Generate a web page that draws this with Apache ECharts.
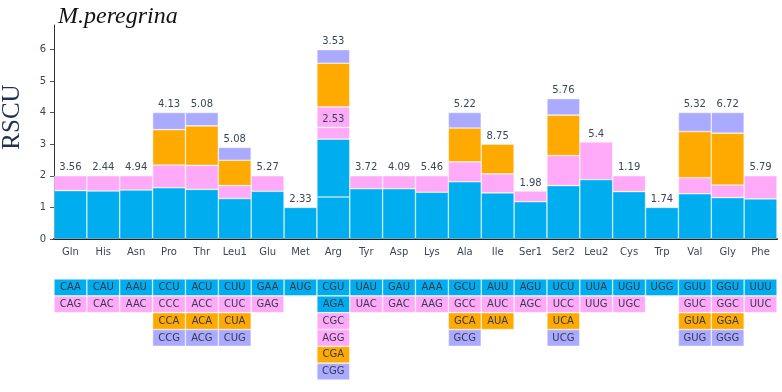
<!DOCTYPE html>
<html><head><meta charset="utf-8">
<script src="https://cdn.jsdelivr.net/npm/echarts@6/dist/echarts.min.js"></script>
<style>html,body{margin:0;padding:0;background:#fff}#c{width:782px;height:392px}</style>
</head><body><div id="c"></div>
<script>
const categories = ['Gln','His','Asn','Pro','Thr','Leu1','Glu','Met','Arg','Tyr','Asp','Lys','Ala','Ile','Ser1','Ser2','Leu2','Cys','Trp','Val','Gly','Phe'];
const rscu1 = [1.53,1.52,1.55,1.62,1.57,1.28,1.51,1.00,1.33,1.59,1.59,1.48,1.81,1.46,1.18,1.69,1.88,1.50,1.00,1.43,1.31,1.27];
const rscu2 = [0.47,0.48,0.45,0.72,0.76,0.41,0.49,null,1.83,0.41,0.41,0.52,0.63,0.60,0.34,0.95,1.19,0.50,null,0.51,0.40,0.73];
const rscu3 = [null,null,null,1.12,1.25,0.80,null,null,0.37,null,null,null,1.07,0.94,null,1.28,null,null,null,1.46,1.64,null];
const rscu4 = [null,null,null,0.54,0.42,0.41,null,null,0.65,null,null,null,0.49,null,null,0.52,null,null,null,0.60,0.65,null];
const rscu5 = [null,null,null,null,null,null,null,null,1.38,null,null,null,null,null,null,null,null,null,null,null,null,null];
const rscu6 = [null,null,null,null,null,null,null,null,0.43,null,null,null,null,null,null,null,null,null,null,null,null,null];
const topLabels = ['3.56','2.44','4.94','4.13','5.08','5.08','5.27','2.33','3.53','3.72','4.09','5.46','5.22','8.75','1.98','5.76','5.4','1.19','1.74','5.32','6.72','5.79'];
const argInnerLabel = '2.53';
const codon1 = ['CAA','CAU','AAU','CCU','ACU','CUU','GAA','AUG','CGU','UAU','GAU','AAA','GCU','AUU','AGU','UCU','UUA','UGU','UGG','GUU','GGU','UUU'];
const codon2 = ['CAG','CAC','AAC','CCC','ACC','CUC','GAG',null,'AGA','UAC','GAC','AAG','GCC','AUC','AGC','UCC','UUG','UGC',null,'GUC','GGC','UUC'];
const codon3 = [null,null,null,'CCA','ACA','CUA',null,null,'CGC',null,null,null,'GCA','AUA',null,'UCA',null,null,null,'GUA','GGA',null];
const codon4 = [null,null,null,'CCG','ACG','CUG',null,null,'AGG',null,null,null,'GCG',null,null,'UCG',null,null,null,'GUG','GGG',null];
const codon5 = [null,null,null,null,null,null,null,null,'CGA',null,null,null,null,null,null,null,null,null,null,null,null,null];
const codon6 = [null,null,null,null,null,null,null,null,'CGG',null,null,null,null,null,null,null,null,null,null,null,null,null];
const yTicks = [0,1,2,3,4,5,6];

const BLUE='#00AEEF', PINK='#FFAAF8', ORANGE='#FFAA00', PURPLE='#AAAAFF';
const defaultColors=[BLUE,PINK,ORANGE,PURPLE,ORANGE,PURPLE];
const argColors=[BLUE,BLUE,PINK,PINK,ORANGE,PURPLE];
function colorFor(i,r){return categories[i]==='Arg'?argColors[r]:defaultColors[r];}

const rows=[rscu1,rscu2,rscu3,rscu4,rscu5,rscu6];
const codons=[codon1,codon2,codon3,codon4,codon5,codon6];
const textColor='#3a4658';

function topRow(i){let t=0;rows.forEach((a,r)=>{if(a[i]!=null)t=r;});return t;}

const series=[];
rows.forEach((arr,r)=>{
  series.push({
    type:'bar',stack:'rscu',xAxisIndex:0,yAxisIndex:0,barCategoryGap:0,
    itemStyle:{borderColor:'rgba(255,255,255,0.7)',borderWidth:0.6},
    label:{show:false},
    data:arr.map((v,i)=>{
      if(v==null) return '-';
      const o={value:v,itemStyle:{color:colorFor(i,r)}};
      let txt=null;
      if(topRow(i)===r) txt=topLabels[i];
      else if(categories[i]==='Arg' && r===2) txt=argInnerLabel;
      if(txt) o.label={show:true,position:'top',distance:3,formatter:txt,color:textColor,fontSize:10,fontFamily:'DejaVu Sans'};
      return o;
    })
  });
});
codons.forEach((arr,r)=>{
  series.push({
    type:'bar',stack:'tbl',xAxisIndex:1,yAxisIndex:1,barCategoryGap:0,
    itemStyle:{borderColor:'rgba(255,255,255,0.7)',borderWidth:0.6},
    data:arr.map((c,i)=>c?{value:1,name:c,itemStyle:{color:colorFor(i,r)},
      label:{show:true,position:'inside',formatter:c,color:'#36384e',fontSize:10,fontFamily:'DejaVu Sans'}}:'-')
  });
});

const chart=echarts.init(document.getElementById('c'),null,{renderer:'canvas'});
chart.setOption({
  animation:false,
  backgroundColor:'#fff',
  title:{text:'M.peregrina',left:53,top:0,textStyle:{fontFamily:'Liberation Serif',fontStyle:'italic',fontWeight:'normal',fontSize:24,color:'#111'}},
  grid:[
    {left:54,right:5,top:25,bottom:153},
    {left:54,right:5,top:279,bottom:12}
  ],
  xAxis:[
    {type:'category',gridIndex:0,data:categories,
     axisLine:{lineStyle:{color:'#111',width:2}},
     axisTick:{alignWithLabel:true,length:4,lineStyle:{color:'#555'}},
     axisLabel:{color:textColor,fontSize:10,fontFamily:'DejaVu Sans',margin:8,interval:0}},
    {type:'category',gridIndex:1,data:categories,show:false}
  ],
  yAxis:[
    {type:'value',gridIndex:0,min:0,max:6.77,interval:1,
     splitLine:{show:false},
     axisLine:{show:true,lineStyle:{color:'#333',width:1}},
     axisTick:{show:true,length:4,customValues:yTicks,lineStyle:{color:'#555'}},
     axisLabel:{color:textColor,fontSize:10,fontFamily:'DejaVu Sans',margin:8,customValues:yTicks}},
    {type:'value',gridIndex:1,min:0,max:6,inverse:true,show:false}
  ],
  graphic:[{type:'text',x:12,y:117,rotation:Math.PI/2,
    style:{text:'RSCU',fontFamily:'Liberation Serif',fontSize:25,fill:'#1f3050',align:'center',verticalAlign:'middle'}}],
  series:series
});
</script></body></html>
